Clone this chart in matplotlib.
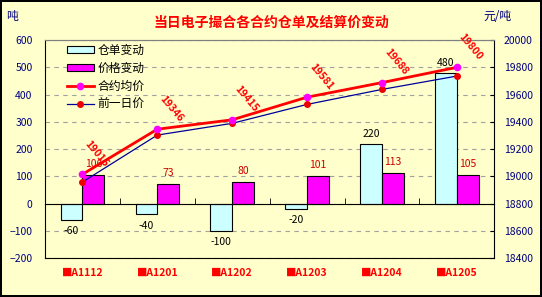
import matplotlib
matplotlib.use("Agg")
import matplotlib.pyplot as plt
import numpy as np

plt.rcParams['font.family'] = ['Noto Sans CJK SC', 'DejaVu Sans']

contracts = ["■A1112", "■A1201", "■A1202", "■A1203", "■A1204", "■A1205"]
warrant_chg = [-60, -40, -100, -20, 220, 480]
price_chg = [106, 73, 80, 101, 113, 105]
avg_price = [19015, 19346, 19415, 19581, 19688, 19800]
prev_price = [18958, 19303, 19389, 19528, 19638, 19736]

bg = "#FFFFCC"
navy = "#000080"

fig = plt.figure(figsize=(5.42, 2.97), dpi=100)
fig.patch.set_facecolor(bg)
fig.patch.set_edgecolor("black")
fig.patch.set_linewidth(1.5)

ax = fig.add_axes([0.083, 0.131, 0.829, 0.734])
ax.set_facecolor(bg)
x = np.arange(len(contracts))
w = 0.29

b1 = ax.bar(x - w / 2, warrant_chg, w, color="#CCFFFF", edgecolor="black", lw=0.8, label="仓单变动", zorder=2)
b2 = ax.bar(x + w / 2, price_chg, w, color="#FF00FF", edgecolor="black", lw=0.8, label="价格变动", zorder=2)

for xi, v in zip(x, warrant_chg):
    ax.annotate(str(v), (xi - w / 2, v), xytext=(0, 7 if v > 0 else -8), textcoords="offset points",
                ha="center", va="center", fontsize=7.5, color="black")
for xi, v in zip(x, price_chg):
    ax.annotate(str(v), (xi + w / 2, v), xytext=(0, 8), textcoords="offset points",
                ha="center", va="center", fontsize=7.5, color="#CC0000")

ax.set_xlim(-0.5, len(contracts) - 0.5)
ax.set_ylim(-200, 600)
ax.set_yticks(range(-200, 601, 100))
ax.yaxis.grid(True, linestyle=(0, (4, 4)), color="#A0A0A0", lw=0.8)
ax.set_axisbelow(True)
ax.tick_params(axis="y", length=0, pad=9, labelsize=7.5, labelcolor=navy)

ax.spines["bottom"].set_position(("data", 0))
ax.spines["top"].set_color("#808080")
ax.spines["right"].set_visible(False)
ax.set_xticks(x, contracts)
ax.set_xticks(np.arange(0.5, len(contracts) - 0.5), minor=True)
ax.tick_params(axis="x", which="major", length=0, pad=46, labelsize=7.5, labelcolor="#FF0000")
ax.tick_params(axis="x", which="minor", direction="in", length=4)
for t in ax.get_xticklabels():
    t.set_fontweight("bold")

ax2 = ax.twinx()
ax2.set_ylim(18400, 20000)
ax2.set_yticks(range(18400, 20001, 200))
ax2.tick_params(axis="y", direction="in", length=3, pad=7, labelsize=7.5, labelcolor=navy)
ax2.spines["top"].set_color("#808080")
ax2.spines["left"].set_visible(False)

l1, = ax2.plot(x, avg_price, color="#FF0000", lw=2, marker="o", ms=4.5,
               mfc="#FF00FF", mec="#FF00FF", label="合约均价", zorder=4)
l2, = ax2.plot(x, prev_price, color="#000099", lw=0.9, marker="o", ms=4,
               mfc="#EE0000", mec="#EE0000", label="前一日价", zorder=3)
for xi, v in zip(x, avg_price):
    ax2.annotate(str(v), (xi, v), xytext=(10, 15), textcoords="offset points",
                 ha="center", va="center", rotation=-50, fontsize=7.5,
                 color="#FF0000", fontweight="bold")

ax2.legend([b1, b2, l1, l2], ["仓单变动", "价格变动", "合约均价", "前一日价"],
           loc="upper left", bbox_to_anchor=(0.035, 1.01), frameon=False,
           fontsize=8.5, handlelength=2.3, handleheight=0.6, labelspacing=0.42,
           borderpad=0, handletextpad=0.3)

fig.text(0.5, 0.922, "当日电子撮合各合约仓单及结算价变动", ha="center", va="center",
         fontsize=10, fontweight="bold", color="#FF0000")
fig.text(0.022, 0.943, "吨", ha="center", va="center", fontsize=8.5, color=navy)
fig.text(0.917, 0.943, "元/吨", ha="center", va="center", fontsize=8.5, color=navy)

fig.savefig("out.png", dpi=100, facecolor=bg)
